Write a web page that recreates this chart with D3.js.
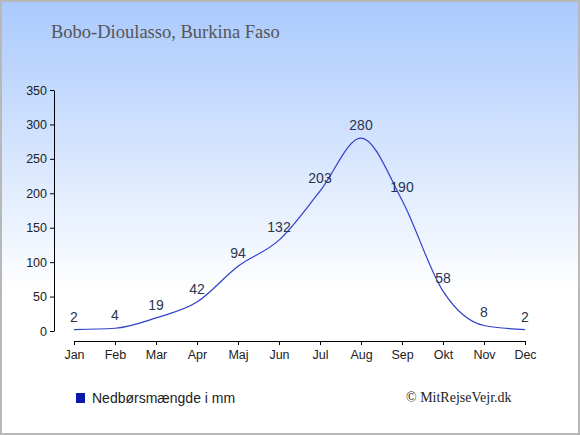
<!DOCTYPE html>
<html>
<head>
    <meta charset="utf-8">
    <script src="https://cdn.jsdelivr.net/npm/d3@7"></script>
    <style>
        * { margin: 0; padding: 0; }
        body { background: #fff; }
        svg { display: block; }
    </style>
</head>
<body>
    <svg id="chart" width="580" height="435"></svg>
    <script>
        var months = ["Jan", "Feb", "Mar", "Apr", "Maj", "Jun", "Jul", "Aug", "Sep", "Okt", "Nov", "Dec"];
        var rain = [2, 4, 19, 42, 94, 132, 203, 280, 190, 58, 8, 2];
        var yTicks = [0, 50, 100, 150, 200, 250, 300, 350];
        var title = "Bobo-Dioulasso, Burkina Faso";
        var legendLabel = "Nedbørsmængde i mm";
        var credit = "© MitRejseVejr.dk";

        var svg = d3.select("#chart");

        // background gradient
        var grad = svg.append("defs").append("linearGradient")
            .attr("id", "bg")
            .attr("x1", 0).attr("y1", 0).attr("x2", 0).attr("y2", 1);
        grad.append("stop").attr("offset", "0%").attr("stop-color", "#a9c9fd");
        grad.append("stop").attr("offset", "67%").attr("stop-color", "#ffffff");
        grad.append("stop").attr("offset", "100%").attr("stop-color", "#ffffff");

        svg.append("rect")
            .attr("x", 1).attr("y", 1)
            .attr("width", 578).attr("height", 433)
            .attr("fill", "url(#bg)")
            .attr("stroke", "#b8b8b8")
            .attr("stroke-width", 2);

        svg.append("text")
            .attr("x", 51).attr("y", 38)
            .text(title)
            .style("font-family", "'Liberation Serif', serif")
            .style("font-size", "18.5px")
            .style("fill", "#555");

        var x = d3.scalePoint()
            .domain(months)
            .range([74, 525]);

        var y = d3.scaleLinear()
            .domain([0, 350])
            .range([331, 90]);

        // y axis
        var yAxis = svg.append("g")
            .attr("transform", "translate(54,0)")
            .call(d3.axisLeft(y).tickValues(yTicks).tickSize(4).tickSizeOuter(0));
        yAxis.select(".domain").attr("stroke", "#000");
        yAxis.selectAll("text")
            .style("font-family", "'Liberation Sans', Arial, sans-serif")
            .style("font-size", "12.5px")
            .style("fill", "#222");

        // x axis
        var xAxis = svg.append("g")
            .attr("transform", "translate(0,341)")
            .call(d3.axisBottom(x).tickSize(4).tickSizeOuter(0));
        xAxis.select(".domain").attr("d", "M" + x("Jan") + ",0.5H" + x("Dec"));
        xAxis.selectAll("text")
            .attr("dy", "0.85em")
            .style("font-family", "'Liberation Sans', Arial, sans-serif")
            .style("font-size", "12.5px")
            .style("fill", "#222");

        // the line
        var line = d3.line()
            .x(function (d, i) { return x(months[i]); })
            .y(function (d) { return y(d); })
            .curve(d3.curveMonotoneX);

        svg.append("path")
            .attr("d", line(rain))
            .attr("fill", "none")
            .attr("stroke", "#3040c8")
            .attr("stroke-width", 1.2);

        // value labels
        svg.selectAll("text.val")
            .data(rain)
            .enter()
            .append("text")
            .attr("class", "val")
            .attr("x", function (d, i) { return x(months[i]); })
            .attr("y", function (d) { return y(d) - 8; })
            .attr("text-anchor", "middle")
            .text(function (d) { return d; })
            .style("font-family", "'Liberation Sans', Arial, sans-serif")
            .style("font-size", "14px")
            .style("fill", "#2a3550");

        // legend
        svg.append("rect")
            .attr("x", 76).attr("y", 393)
            .attr("width", 9).attr("height", 10)
            .attr("fill", "#0a1aaa");
        svg.append("text")
            .attr("x", 92).attr("y", 403)
            .text(legendLabel)
            .style("font-family", "'Liberation Sans', Arial, sans-serif")
            .style("font-size", "14px")
            .style("fill", "#222");

        svg.append("text")
            .attr("x", 406).attr("y", 402)
            .text(credit)
            .style("font-family", "'Liberation Serif', serif")
            .style("font-size", "14px")
            .style("fill", "#222");
    </script>
</body>
</html>
